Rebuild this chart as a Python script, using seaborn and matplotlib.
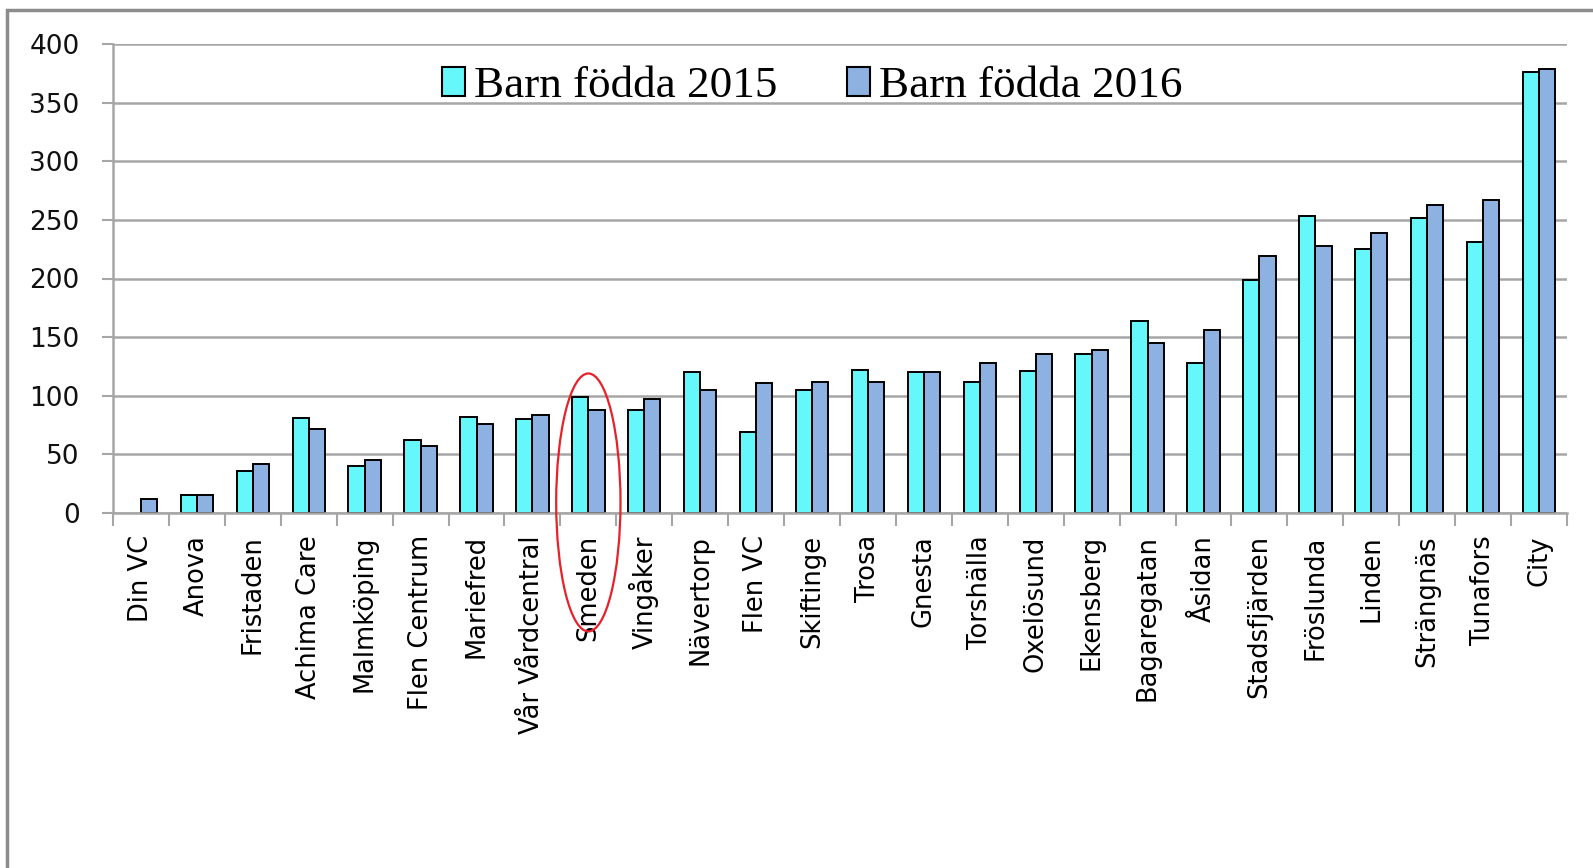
import numpy as np
import pandas as pd
import matplotlib
matplotlib.use("Agg")
import matplotlib.pyplot as plt
from matplotlib.patches import Ellipse, Rectangle
from matplotlib.ticker import FixedLocator
import seaborn as sns

categories = ["Din VC", "Anova", "Fristaden", "Achima Care", "Malmköping", "Flen Centrum",
              "Mariefred", "Vår Vårdcentral", "Smeden", "Vingåker", "Nävertorp", "Flen VC",
              "Skiftinge", "Trosa", "Gnesta", "Torshälla", "Oxelösund", "Ekensberg",
              "Bagaregatan", "Åsidan", "Stadsfjärden", "Fröslunda", "Linden", "Strängnäs",
              "Tunafors", "City"]
born_2015 = [np.nan, 15, 36, 81, 40, 62, 82, 80, 99, 88, 120, 69,
             105, 122, 120, 112, 121, 136, 164, 128, 199, 253, 225, 252, 231, 376]
born_2016 = [12, 15, 42, 72, 45, 57, 76, 84, 88, 97, 105, 111,
             112, 112, 120, 128, 136, 139, 145, 156, 219, 228, 239, 263, 267, 379]
series_names = ["Barn födda 2015", "Barn födda 2016"]
yticks = [0, 50, 100, 150, 200, 250, 300, 350, 400]

df = pd.DataFrame({
    "Enhet": categories * 2,
    "Serie": [series_names[0]] * len(categories) + [series_names[1]] * len(categories),
    "Antal": born_2015 + born_2016,
})

sns.set_theme(style="white")
plt.rcParams["font.family"] = ["DejaVu Sans"]

W, H = 1593, 868
fig = plt.figure(figsize=(W / 100, H / 100), dpi=100)
ax = fig.add_axes([113 / W, 1 - 513 / H, (1567 - 113) / W, (513 - 44) / H])

sns.barplot(data=df, x="Enhet", y="Antal", hue="Serie", order=categories,
            hue_order=series_names, palette=["#66F7FA", "#8DB2E2"], saturation=1,
            width=0.58, gap=0, edgecolor="black", linewidth=1.4,
            errorbar=None, ax=ax, zorder=3)

ax.set_xlim(-0.5, len(categories) - 0.5)
ax.set_ylim(0, 400)
ax.set_yticks(yticks)
ax.set_xlabel("")
ax.set_ylabel("")

gc = "#A6A6A6"
ax.grid(axis="y", color=gc, linewidth=1.8, zorder=0)
ax.grid(axis="x", visible=False)
for s in ["top", "right"]:
    ax.spines[s].set_visible(False)
for s in ["left", "bottom"]:
    ax.spines[s].set_color(gc)
    ax.spines[s].set_linewidth(1.8)
    ax.spines[s].set_zorder(4)

ax.tick_params(axis="y", which="major", left=True, length=8, width=1.5, color=gc,
               labelsize=19, labelcolor="#111111", pad=16)
ax.tick_params(axis="x", which="major", bottom=False, length=0, labelsize=18.5,
               labelcolor="#000000", rotation=90, pad=16)
ax.xaxis.set_minor_locator(FixedLocator(np.arange(-0.5, len(categories), 1.0)))
ax.tick_params(axis="x", which="minor", bottom=True, length=9, width=1.5, color=gc)
for lbl in ax.get_xticklabels():
    lbl.set_verticalalignment("top")

leg = ax.legend(loc="center", bbox_to_anchor=(0.481, 0.91), ncol=2, frameon=False,
                prop={"family": "Liberation Serif", "size": 32.5},
                handlelength=0.5, handleheight=0.62, handletextpad=0.2,
                columnspacing=1.55, borderpad=0, labelcolor="black")
for h in leg.legend_handles:
    h.set_edgecolor("black")
    h.set_linewidth(1.5)

ell = Ellipse((8, 9), width=1.15, height=220, fill=False, edgecolor="#E8202A",
              linewidth=1.6, clip_on=False, zorder=6)
ax.add_patch(ell)

border = Rectangle((7 / W, -0.05), 1.2, 1 - 10 / H + 0.05, transform=fig.transFigure,
                   fill=False, edgecolor="#8C8C8C", linewidth=2.5, clip_on=False)
fig.patches.append(border)

fig.savefig("out.png", dpi=100, facecolor="white")
